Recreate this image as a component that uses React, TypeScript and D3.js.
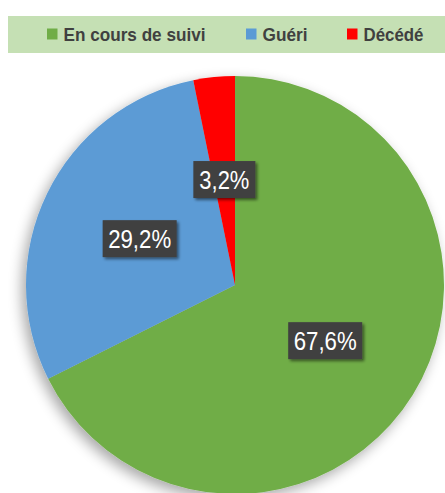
import React from "react";
import * as d3 from "d3";

const categories = ["En cours de suivi", "Guéri", "Décédé"];
const values = [67.6, 29.2, 3.2];
const labels = ["67,6%", "29,2%", "3,2%"];
const colors = ["#70AD47", "#5B9BD5", "#FF0000"];

const W = 445;
const H = 493;
const cx = 235;
const cy = 285;
const R = 209;

const legendText = [142, 45, 60];
const legendX = [47, 246, 347];

export default function App() {
  const pie = d3.pie<number>().sort(null).value((d) => d)(values);
  const arc = d3.arc<d3.PieArcDatum<number>>().innerRadius(0).outerRadius(R);
  const labelArc = d3.arc<d3.PieArcDatum<number>>().innerRadius(212).outerRadius(212);
  return (
    <svg
      width={W}
      height={H}
      style={{ position: "absolute", left: 0, top: 0, display: "block" }}
    >
      <defs>
        <filter id="sh" x="-20%" y="-20%" width="140%" height="140%">
          <feGaussianBlur in="SourceAlpha" stdDeviation="7" />
          <feOffset dx="-4" dy="5" result="b" />
          <feComponentTransfer>
            <feFuncA type="linear" slope="0.35" />
          </feComponentTransfer>
          <feMerge>
            <feMergeNode />
            <feMergeNode in="SourceGraphic" />
          </feMerge>
        </filter>
        <filter id="lsh" x="-20%" y="-20%" width="140%" height="150%">
          <feGaussianBlur in="SourceAlpha" stdDeviation="1.5" />
          <feOffset dx="2" dy="2" />
          <feComponentTransfer>
            <feFuncA type="linear" slope="0.5" />
          </feComponentTransfer>
          <feMerge>
            <feMergeNode />
            <feMergeNode in="SourceGraphic" />
          </feMerge>
        </filter>
      </defs>
      <rect x={0} y={0} width={W} height={H} fill="#fff" />
      <rect x={8} y={16} width={437} height={37} fill="#C5E0B4" />
      {categories.map((c, i) => (
        <g key={c}>
          <rect x={legendX[i]} y={28.5} width={10.5} height={11} fill={colors[i]} />
          <text
            x={legendX[i] + 16.5}
            y={41}
            fontFamily="Liberation Sans, Arial, sans-serif"
            fontWeight="bold"
            fontSize={19}
            fill="#404040"
            textLength={legendText[i]}
            lengthAdjust="spacingAndGlyphs"
          >
            {c}
          </text>
        </g>
      ))}
      <g transform={`translate(${cx},${cy})`}>
        <g filter="url(#sh)">
          {pie.map((p, i) => (
            <path key={i} d={arc(p) || ""} fill={colors[i]} />
          ))}
        </g>
        {pie.map((p, i) => {
          const [lx, ly] = labelArc.centroid(p);
          const tx = lx / 2;
          const ty = ly / 2;
          const tw = i === 2 ? 50 : 63;
          const bw = i === 2 ? 62 : 74;
          return (
            <g key={"l" + i} transform={`translate(${tx},${ty})`}>
              <rect
                x={-bw / 2}
                y={-18.5}
                width={bw}
                height={37}
                fill="#404040"
                filter="url(#lsh)"
              />
              <text
                x={0}
                y={9.5}
                textAnchor="middle"
                fontFamily="Liberation Sans, Arial, sans-serif"
                fontSize={26}
                fill="#fff"
                textLength={tw}
                lengthAdjust="spacingAndGlyphs"
              >
                {labels[i]}
              </text>
            </g>
          );
        })}
      </g>
    </svg>
  );
}
